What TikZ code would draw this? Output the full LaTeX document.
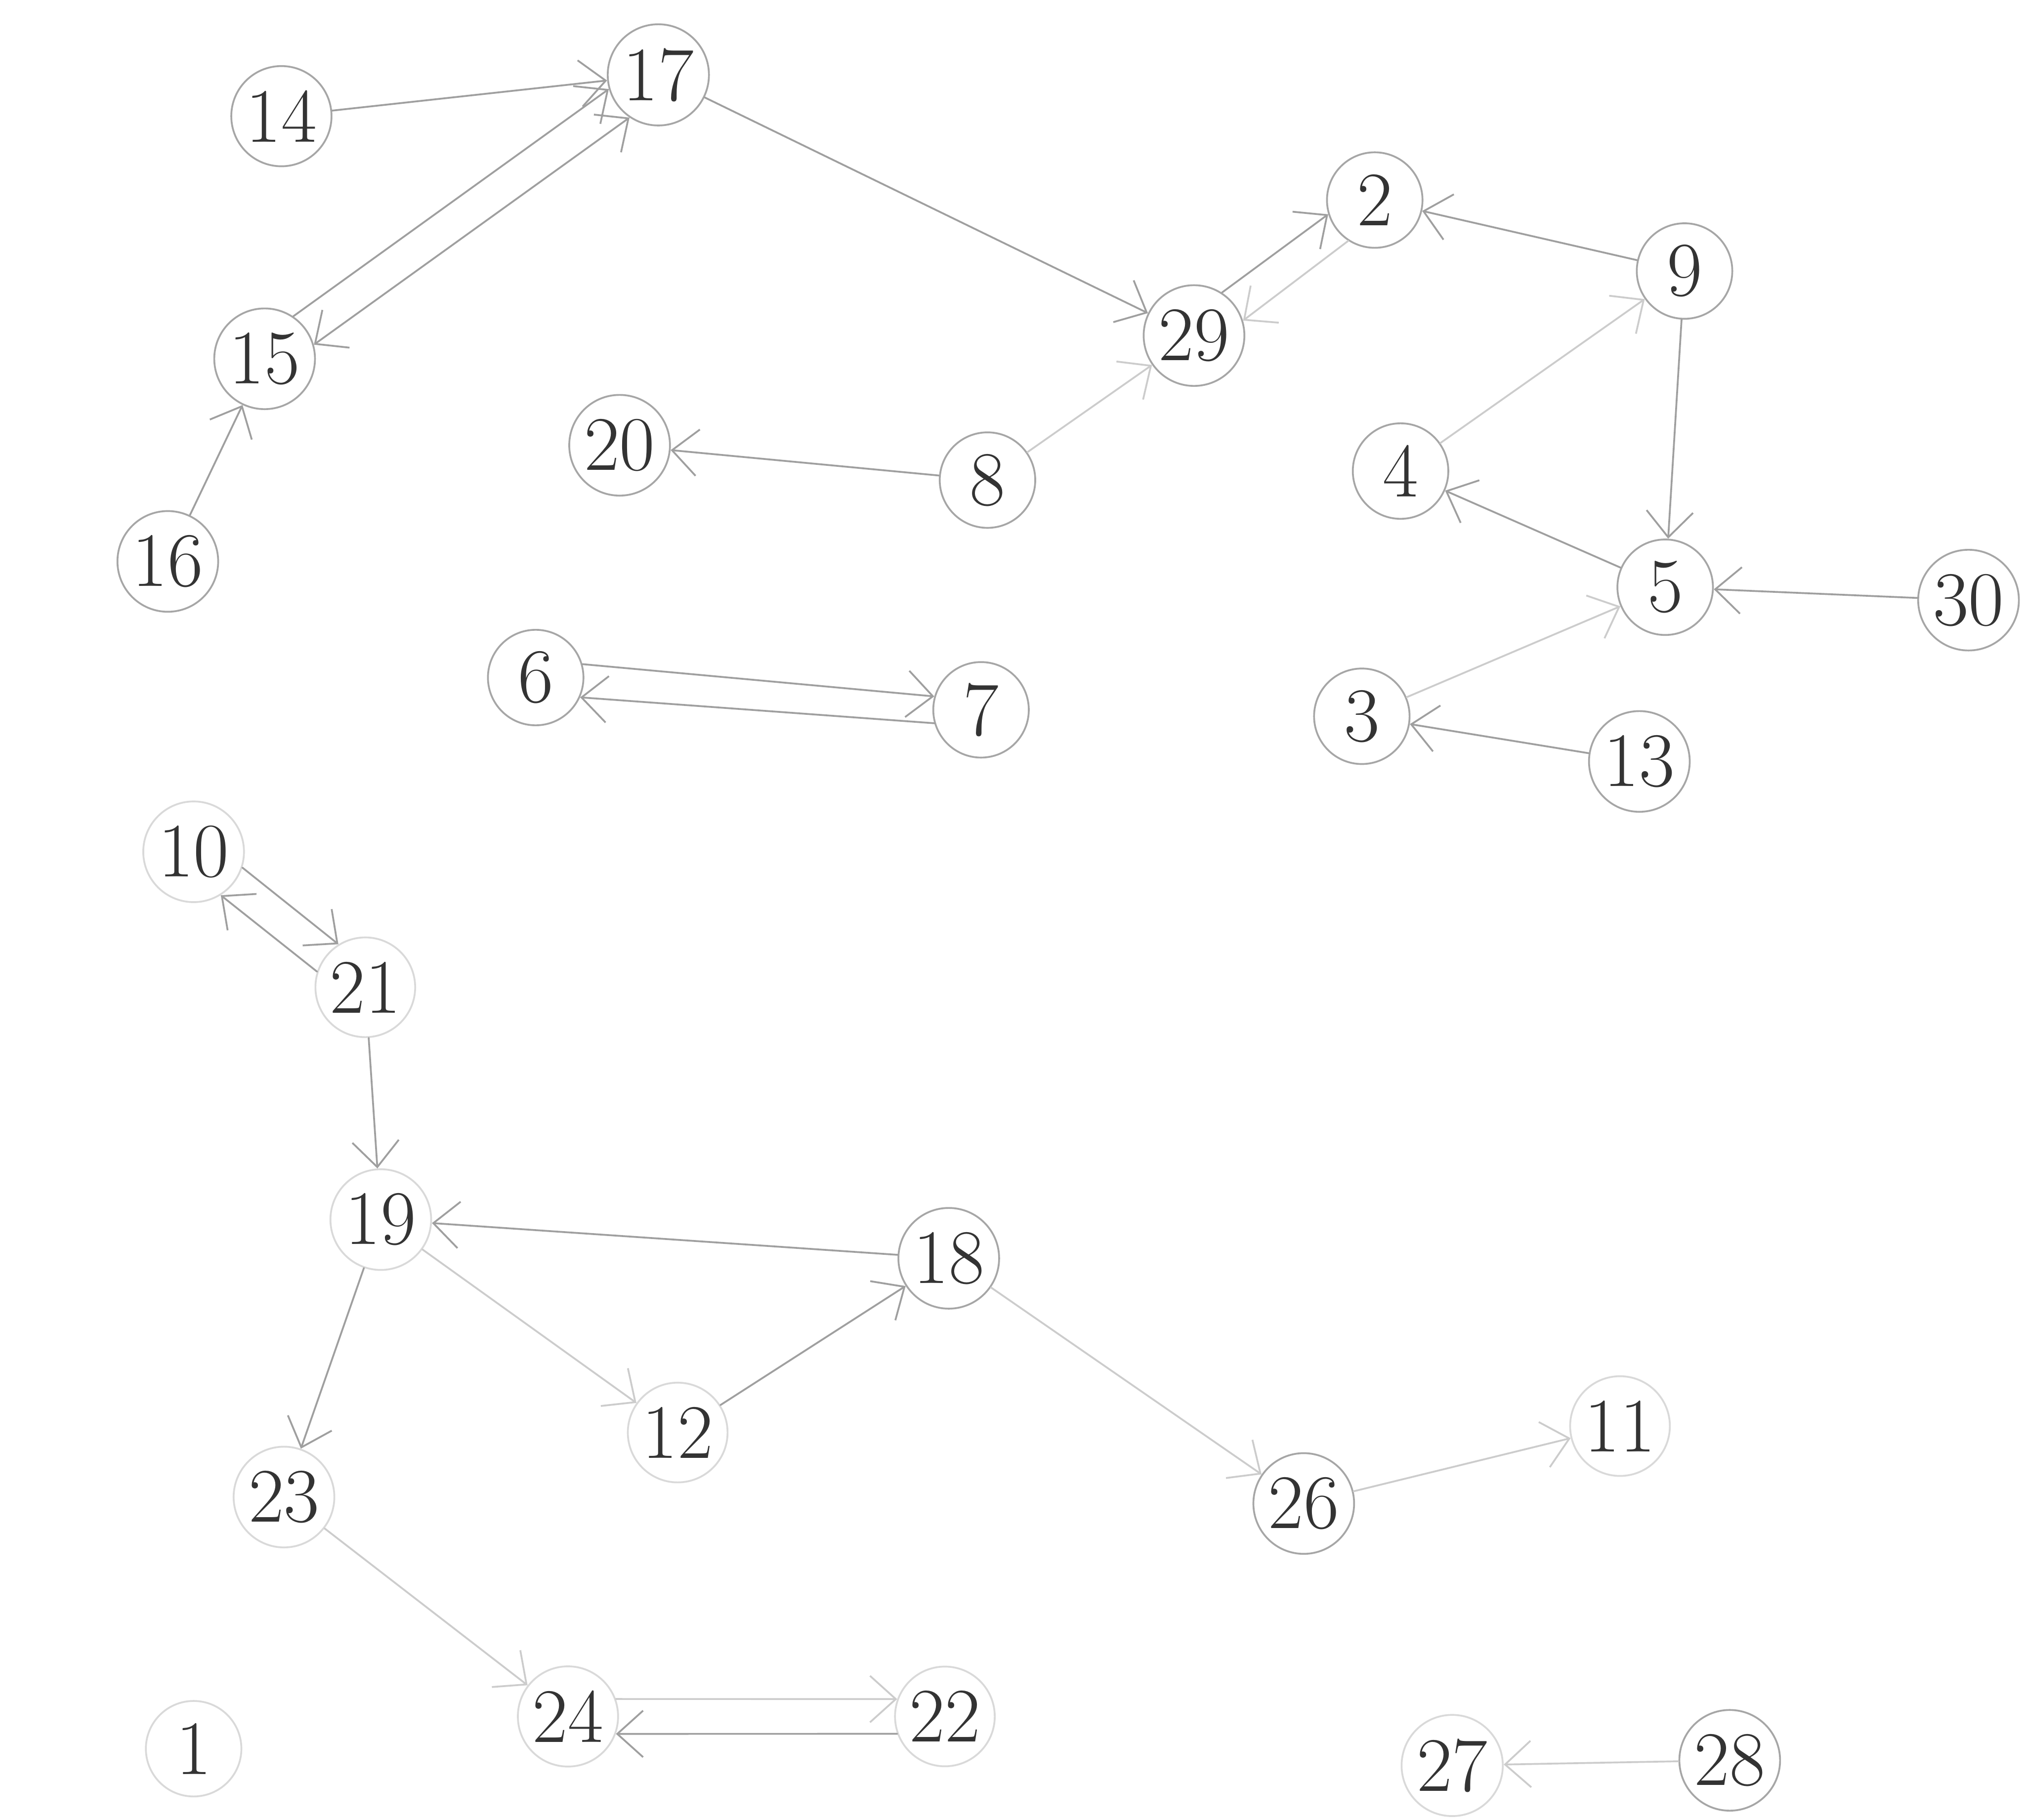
\documentclass[tikz,border=0pt]{standalone}
\usetikzlibrary{arrows.meta}
\begin{document}
\begin{tikzpicture}[line join=round,line cap=round,>={Straight Barb[length=2mm,width=3.6mm]},
  vtx/.style={circle,draw=gray!70,minimum size=7.4mm,inner sep=1pt,font=\fontsize{17}{19}\selectfont,text=black!80},
  vtxfaint/.style={vtx,draw=gray!30},
  edge/.style={->,draw=gray!75,thin},
  edgefaint/.style={edge,draw=gray!40}]
\useasboundingbox (0,0) rectangle (15.68,-14.10);
% upper left part
\node[vtx] (n14) at (2.18,-0.90) {14};
\node[vtx] (n17) at (5.10,-0.58) {17};
\node[vtx] (n15) at (2.05,-2.78) {15};
\node[vtx] (n16) at (1.30,-4.35) {16};
\node[vtx] (n20) at (4.80,-3.45) {20};
\node[vtx] (n8) at (7.65,-3.72) {8};
\node[vtx] (n6) at (4.15,-5.25) {6};
\node[vtx] (n7) at (7.60,-5.50) {7};
% upper right part
\node[vtx] (n29) at (9.25,-2.60) {29};
\node[vtx] (n2) at (10.65,-1.55) {2};
\node[vtx] (n9) at (13.05,-2.10) {9};
\node[vtx] (n4) at (10.85,-3.65) {4};
\node[vtx] (n5) at (12.90,-4.55) {5};
\node[vtx] (n30) at (15.25,-4.65) {30};
\node[vtx] (n3) at (10.55,-5.55) {3};
\node[vtx] (n13) at (12.70,-5.90) {13};
% lower part
\node[vtxfaint] (n10) at (1.50,-6.60) {10};
\node[vtxfaint] (n21) at (2.83,-7.65) {21};
\node[vtxfaint] (n19) at (2.95,-9.45) {19};
\node[vtx] (n18) at (7.35,-9.75) {18};
\node[vtxfaint] (n12) at (5.25,-11.10) {12};
\node[vtxfaint] (n23) at (2.20,-11.60) {23};
\node[vtx] (n26) at (10.10,-11.65) {26};
\node[vtxfaint] (n11) at (12.55,-11.05) {11};
\node[vtxfaint] (n24) at (4.40,-13.30) {24};
\node[vtxfaint] (n22) at (7.32,-13.30) {22};
\node[vtxfaint] (n27) at (11.25,-13.68) {27};
\node[vtx] (n28) at (13.40,-13.64) {28};
\node[vtxfaint] (n1) at (1.50,-13.55) {1};
% edges
\draw[edge] (n14) -- (n17);
\draw[edge] (n15.56) -- (n17.196);
\draw[edge,<->] (n17.236) -- (n15.16);
\draw[edge] (n16) -- (n15);
\draw[edge] (n17) -- (n29);
\draw[edgefaint] (n8) -- (n29);
\draw[edge] (n8) -- (n20);
\draw[edge] (n29.57) -- (n2.197);
\draw[edgefaint] (n2.237) -- (n29.17);
\draw[edge] (n9) -- (n2);
\draw[edge] (n9) -- (n5);
\draw[edgefaint] (n4) -- (n9);
\draw[edge] (n5) -- (n4);
\draw[edge] (n30) -- (n5);
\draw[edgefaint] (n3) -- (n5);
\draw[edge] (n13) -- (n3);
\draw[edge] (n6.16) -- (n7.164);
\draw[edge] (n7.196) -- (n6.-24);
\draw[edge] (n10.-18) -- (n21.122);
\draw[edge] (n21.162) -- (n10.-58);
\draw[edge] (n21) -- (n19);
\draw[edge] (n18) -- (n19);
\draw[edge] (n19) -- (n23);
\draw[edgefaint] (n19) -- (n12);
\draw[edge] (n12) -- (n18);
\draw[edgefaint] (n18) -- (n26);
\draw[edgefaint] (n26) -- (n11);
\draw[edgefaint] (n23) -- (n24);
\draw[edgefaint] (n24.20) -- (n22.160);
\draw[edge] (n22.200) -- (n24.-20);
\draw[edgefaint] (n28) -- (n27);
\end{tikzpicture}
\end{document}
